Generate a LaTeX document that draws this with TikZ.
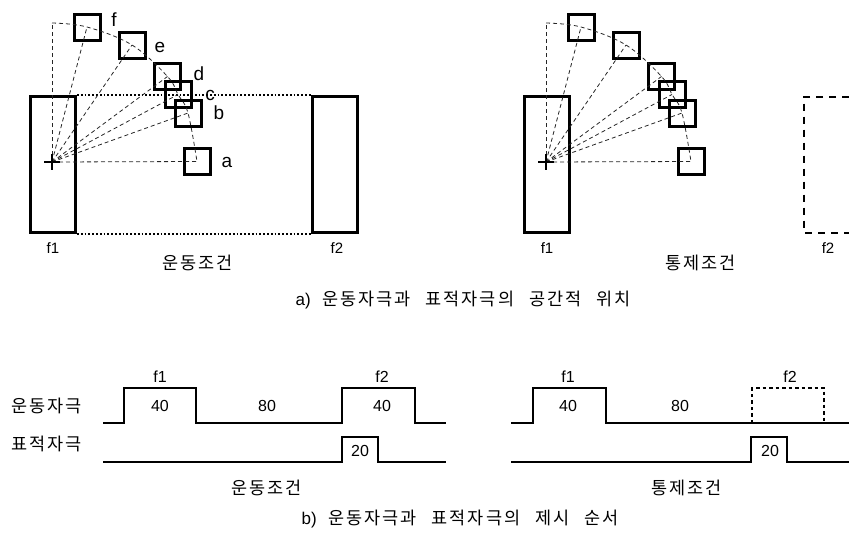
\documentclass[tikz,border=0pt]{standalone}
\usepackage{fontspec}
\setmainfont{Liberation Sans}
\newfontfamily\krfont[LetterSpace=11]{Noto Sans CJK KR}
\newcommand{\wgap}{\hspace{15pt}}
\begin{document}
\begin{tikzpicture}[x=1pt,y=-1pt,
  thickbox/.style={draw,line width=3pt},
  sq/.style={draw,line width=3pt,minimum size=26pt,inner sep=0pt},
  ray/.style={dash pattern=on 4pt off 3pt,line width=0.8pt,black!85},
  lett/.style={inner sep=0pt,font=\fontsize{19}{19}\selectfont},
  flab/.style={inner sep=0pt,font=\fontsize{15}{15}\selectfont},
  blab/.style={inner sep=0pt,font=\fontsize{16}{16}\selectfont},
  kr/.style={inner sep=0pt,font=\krfont\fontsize{17.5}{18}\selectfont},
  sig/.style={line width=1.8pt},
  crs/.style={line width=2.2pt}]
\useasboundingbox (0,0) rectangle (849,539);

% ---------- part a, left panel ----------
\node[thickbox,minimum width=45pt,minimum height=136pt,inner sep=0pt] (f1L) at (53,164.5) {};
\node[thickbox,minimum width=45pt,minimum height=136pt,inner sep=0pt] (f2L) at (334.5,164.5) {};
\draw[dotted,line width=1.8pt] (f1L.north east) -- (f2L.north west);
\draw[dotted,line width=1.8pt] (f1L.south east) -- (f2L.south west);
\coordinate (oL) at (52,162);
\coordinate (topL) at (52,23);
\node[sq] (aL) at (197,161.5) {};
\node[sq] (bL) at (188,113) {};
\node[sq] (cL) at (178,94.5) {};
\node[sq] (dL) at (167.5,76.5) {};
\node[sq] (eL) at (132,45) {};
\node[sq] (fL) at (87,27) {};
\foreach \s in {aL,bL,cL,dL,eL,fL,topL} \draw[ray] (oL) -- (\s.center);
\draw[ray] plot[smooth,tension=0.6] coordinates {(52,23) (87,27) (132,45) (167.5,76.5) (178,94.5) (188,113) (197,161.5)};
\draw[crs] (44,162) -- (60,162) (52,154) -- (52,170);
\node[lett] (la) at (227,162) {a};
\node[lett] (lb) at (219,113) {b};
\node[lett] (lc) at (210,95) {c};
\node[lett] (ld) at (199,74) {d};
\node[lett] (le) at (160,47) {e};
\node[lett] (lf) at (114,20) {f};
\node[flab] (tf1L) at (53,248) {f1};
\node[flab] (tf2L) at (337,248) {f2};
\node[kr] (condL) at (198,263) {운동조건};

% ---------- part a, right panel ----------
\node[thickbox,minimum width=45pt,minimum height=136pt,inner sep=0pt] (f1R) at (547,164.5) {};
\draw[dashed,dash pattern=on 7pt off 6pt,line width=2pt] (849,96.5) -- (804,96.5) -- (804,232.5) -- (849,232.5);
\coordinate (oR) at (546,162);
\coordinate (topR) at (546,23);
\node[sq] (aR) at (691,161.5) {};
\node[sq] (bR) at (682,113) {};
\node[sq] (cR) at (672,94.5) {};
\node[sq] (dR) at (661.5,76.5) {};
\node[sq] (eR) at (626,45) {};
\node[sq] (fR) at (581,27) {};
\foreach \s in {aR,bR,cR,dR,eR,fR,topR} \draw[ray] (oR) -- (\s.center);
\draw[ray] plot[smooth,tension=0.6] coordinates {(546,23) (581,27) (626,45) (661.5,76.5) (672,94.5) (682,113) (691,161.5)};
\draw[crs] (538,162) -- (554,162) (546,154) -- (546,170);
\node[flab] (tf1R) at (547,248) {f1};
\node[flab] (tf2R) at (828,248) {f2};
\node[kr] (condR) at (701,263) {통제조건};

\node[kr] (capA) at (463,300) {{\rmfamily\fontsize{17}{17}\selectfont a)}\hspace{12pt}운동자극과\wgap 표적자극의\wgap 공간적\wgap 위치};

% ---------- part b ----------
\node[kr] (rowM) at (47,406) {운동자극};
\node[kr] (rowT) at (47,444) {표적자극};

% left timing
\draw[sig] (103,423) -- (124,423) -- (124,388) -- (196,388) -- (196,423) -- (342,423) -- (342,388) -- (415,388) -- (415,423) -- (446,423);
\draw[sig] (103,462) -- (342,462) -- (342,437) -- (378,437) -- (378,462) -- (446,462);
\node[blab] (bf1L) at (160,377) {f1};
\node[blab] (b40L) at (160,406) {40};
\node[blab] (b80L) at (267,406) {80};
\node[blab] (bf2L) at (382,377) {f2};
\node[blab] (b40L2) at (382,406) {40};
\node[blab] (b20L) at (360,451) {20};
\node[kr] (bcondL) at (267,488) {운동조건};

% right timing
\draw[sig] (511,423) -- (533,423) -- (533,388) -- (606,388) -- (606,423) -- (849,423);
\draw[dashed,dash pattern=on 3.5pt off 3pt,line width=1.3pt] (752,423) -- (752,388) -- (824,388) -- (824,423);
\draw[sig] (511,462) -- (751,462) -- (751,437) -- (787,437) -- (787,462) -- (849,462);
\node[blab] (bf1R) at (568,377) {f1};
\node[blab] (b40R) at (568,406) {40};
\node[blab] (b80R) at (680,406) {80};
\node[blab] (bf2R) at (790,377) {f2};
\node[blab] (b20R) at (770,451) {20};
\node[kr] (bcondR) at (687,488) {통제조건};

\node[kr] (capB) at (460,519) {{\rmfamily\fontsize{17}{17}\selectfont b)}\hspace{12pt}운동자극과\wgap 표적자극의\wgap 제시\wgap 순서};
\end{tikzpicture}
\end{document}
